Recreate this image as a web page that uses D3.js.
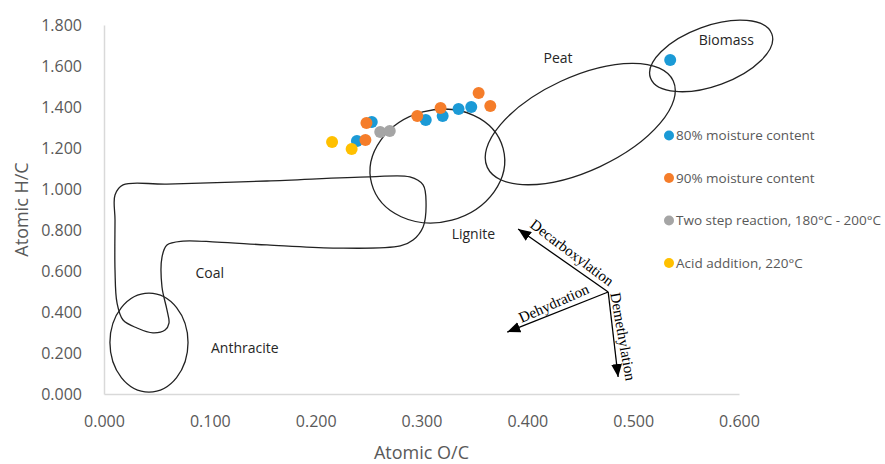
<!DOCTYPE html>
<html lang="en">

<head>
    <meta charset="UTF-8">
    <title>Van Krevelen diagram</title>
    <script src="https://cdn.jsdelivr.net/npm/d3@7"></script>
    <style>
        body { margin: 0; background: #fff; }
        text { font-family: 'Open Sans', sans-serif; }
    </style>
</head>

<body>
    <svg></svg>
</body>
<script>
    const width = 885;
    const height = 464;

    // series names (legend order)
    const seriesNames = ['80% moisture content', '90% moisture content', 'Two step reaction, 180°C - 200°C', 'Acid addition, 220°C'];

    // atomic O/C and H/C
    const oc80 = [0.239, 0.253, 0.304, 0.320, 0.335, 0.347, 0.535];
    const hc80 = [1.234, 1.327, 1.337, 1.356, 1.390, 1.400, 1.629];
    const oc90 = [0.247, 0.248, 0.296, 0.318, 0.354, 0.365];
    const hc90 = [1.239, 1.322, 1.356, 1.395, 1.468, 1.405];
    const ocTwoStep = [0.261, 0.270];
    const hcTwoStep = [1.278, 1.283];
    const ocAcid = [0.2155, 0.234];
    const hcAcid = [1.229, 1.195];

    const xTicks = [0, 0.1, 0.2, 0.3, 0.4, 0.5, 0.6];
    const yTicks = [0, 0.2, 0.4, 0.6, 0.8, 1.0, 1.2, 1.4, 1.6, 1.8];

    // fuel regions drawn as ellipses: centre (O/C, H/C), half axes in O/C and H/C units, tilt in degrees
    const regionNames = ['Anthracite', 'Lignite', 'Peat', 'Biomass'];
    const regionCx = [0.0425, 0.315, 0.450, 0.5737];
    const regionCy = [0.251, 1.112, 1.317, 1.649];
    const regionRx = [0.0369, 0.0643, 0.0969, 0.061];
    const regionRy = [0.2415, 0.273, 0.229, 0.146];
    const regionTilt = [0, -15, -25, -20];

    // region label anchors (O/C, H/C)
    const labelNames = ['Anthracite', 'Coal', 'Lignite', 'Peat', 'Biomass'];
    const labelOc = [0.133, 0.100, 0.349, 0.429, 0.588];
    const labelHc = [0.224, 0.590, 0.780, 1.639, 1.727];

    // outline of the coal band (O/C, H/C)
    const coalOc = [0.0104, 0.018, 0.0595, 0.154, 0.251, 0.289, 0.3015, 0.3043, 0.3015, 0.292, 0.280, 0.2164, 0.154, 0.1068, 0.0747, 0.0595, 0.0548, 0.0548, 0.0595, 0.0614, 0.0577, 0.0463, 0.0312, 0.018, 0.0123, 0.0104, 0.0104];
    const coalHc = [0.971, 1.020, 1.024, 1.039, 1.059, 1.059, 1.020, 0.932, 0.815, 0.751, 0.722, 0.712, 0.727, 0.741, 0.746, 0.727, 0.668, 0.522, 0.410, 0.346, 0.312, 0.298, 0.322, 0.361, 0.444, 0.605, 0.849];

    // reaction pathway arrows: common start and three tips
    const arrowNames = ['Decarboxylation', 'Dehydration', 'Demethylation'];
    const arrowStart = [0.4764, 0.4976];
    const arrowTipOc = [0.3913, 0.381, 0.4858];
    const arrowTipHc = [0.805, 0.302, 0.083];

    const colors = ['#1b9ad6', '#f57d2a', '#a5a5a5', '#ffc000'];

    const svg = d3.select('svg')
        .attr('width', width)
        .attr('height', height);

    const x = d3.scaleLinear().domain([0, 0.6]).range([104, 739]);
    const y = d3.scaleLinear().domain([0, 1.8]).range([394, 25]);

    // axes
    const fmt = d3.format('.3f');
    const gx = svg.append('g')
        .attr('transform', `translate(0, ${y(0)})`)
        .call(d3.axisBottom(x).tickValues(xTicks).tickFormat(fmt).tickSize(0).tickPadding(22));
    const gy = svg.append('g')
        .attr('transform', `translate(${x(0)}, 0)`)
        .call(d3.axisLeft(y).tickValues(yTicks).tickFormat(fmt).tickSize(0).tickPadding(22));
    [gx, gy].forEach(g => {
        g.select('.domain').attr('stroke', '#d9d9d9').attr('stroke-width', 1.5);
        g.selectAll('text')
            .attr('fill', '#595959')
            .style('font-size', '16px')
            .style('font-family', "'Open Sans', sans-serif");
    });

    svg.append('text')
        .attr('x', (x(0) + x(0.6)) / 2)
        .attr('y', 453)
        .attr('dy', '0.35em')
        .attr('text-anchor', 'middle')
        .attr('fill', '#595959')
        .style('font-size', '18px')
        .text('Atomic O/C');
    svg.append('text')
        .attr('transform', `translate(22, ${(y(0) + y(1.8)) / 2}) rotate(-90)`)
        .attr('dy', '0.35em')
        .attr('text-anchor', 'middle')
        .attr('fill', '#595959')
        .style('font-size', '18px')
        .text('Atomic H/C');

    // region ellipses
    const pxPerOc = x(1) - x(0);
    const pxPerHc = y(0) - y(1);
    svg.append('g')
        .selectAll('ellipse')
        .data(regionNames)
        .join('ellipse')
        .attr('transform', (d, i) => `translate(${x(regionCx[i])}, ${y(regionCy[i])}) rotate(${regionTilt[i]})`)
        .attr('rx', (d, i) => regionRx[i] * pxPerOc)
        .attr('ry', (d, i) => regionRy[i] * pxPerHc)
        .attr('fill', 'none')
        .attr('stroke', '#222')
        .attr('stroke-width', 1.3);

    // coal band
    const coalLine = d3.line()
        .x(i => x(coalOc[i]))
        .y(i => y(coalHc[i]))
        .curve(d3.curveCatmullRomClosed.alpha(0.5));
    svg.append('path')
        .attr('d', coalLine(d3.range(coalOc.length)))
        .attr('fill', 'none')
        .attr('stroke', '#222')
        .attr('stroke-width', 1.3);

    svg.append('g')
        .selectAll('text')
        .data(labelNames)
        .join('text')
        .attr('x', (d, i) => x(labelOc[i]))
        .attr('y', (d, i) => y(labelHc[i]))
        .attr('dy', '0.35em')
        .attr('text-anchor', 'middle')
        .attr('fill', '#262626')
        .style('font-size', '14px')
        .text(d => d);

    // scatter points
    const points = [
        ...oc80.map((v, i) => ({ s: 0, oc: v, hc: hc80[i] })),
        ...ocTwoStep.map((v, i) => ({ s: 2, oc: v, hc: hcTwoStep[i] })),
        ...oc90.map((v, i) => ({ s: 1, oc: v, hc: hc90[i] })),
        ...ocAcid.map((v, i) => ({ s: 3, oc: v, hc: hcAcid[i] }))
    ];
    svg.append('g')
        .selectAll('circle')
        .data(points)
        .join('circle')
        .attr('cx', d => x(d.oc))
        .attr('cy', d => y(d.hc))
        .attr('r', 6)
        .attr('fill', d => colors[d.s]);

    // legend
    const legend = svg.append('g')
        .selectAll('g')
        .data(seriesNames)
        .join('g')
        .attr('transform', (d, i) => `translate(669, ${135.5 + i * 42.5})`);
    legend.append('circle')
        .attr('r', 5)
        .attr('fill', (d, i) => colors[i]);
    legend.append('text')
        .attr('x', 7)
        .attr('dy', '0.35em')
        .attr('fill', '#595959')
        .style('font-size', '13.5px')
        .text(d => d);

    // reaction arrows
    svg.append('defs').append('marker')
        .attr('id', 'head')
        .attr('viewBox', '0 0 12 10')
        .attr('refX', 12)
        .attr('refY', 5)
        .attr('markerWidth', 13)
        .attr('markerHeight', 11)
        .attr('markerUnits', 'userSpaceOnUse')
        .attr('orient', 'auto')
        .append('path')
        .attr('d', 'M0,0 L12,5 L0,10 Z')
        .attr('fill', '#000');

    const x0 = x(arrowStart[0]);
    const y0 = y(arrowStart[1]);
    svg.append('g')
        .selectAll('line')
        .data(arrowNames)
        .join('line')
        .attr('x1', x0)
        .attr('y1', y0)
        .attr('x2', (d, i) => x(arrowTipOc[i]))
        .attr('y2', (d, i) => y(arrowTipHc[i]))
        .attr('stroke', '#000')
        .attr('stroke-width', 1.3)
        .attr('marker-end', 'url(#head)');

    // labels sit beside each arrow, turned along it
    const arrowLabelOffset = [[9, -8], [-4, -9], [10, 2]];
    const arrowLabelRot = [37, -24, 80];
    svg.append('g')
        .selectAll('text')
        .data(arrowNames)
        .join('text')
        .attr('transform', (d, i) => {
            const mx = (x0 + x(arrowTipOc[i])) / 2 + arrowLabelOffset[i][0];
            const my = (y0 + y(arrowTipHc[i])) / 2 + arrowLabelOffset[i][1];
            return `translate(${mx}, ${my}) rotate(${arrowLabelRot[i]})`;
        })
        .attr('dy', '0.35em')
        .attr('text-anchor', 'middle')
        .attr('fill', '#000')
        .style('font-family', "'Liberation Serif', 'DejaVu Serif', serif")
        .style('font-size', '15px')
        .text(d => d);
</script>

</html>
